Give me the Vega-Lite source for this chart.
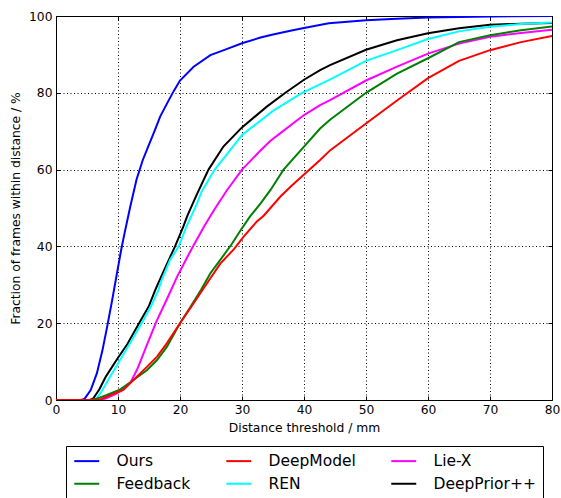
{
  "$schema": "https://vega.github.io/schema/vega-lite/v6.json",
  "width": 496,
  "height": 384,
  "autosize": {"type": "none"},
  "padding": {"left": 56, "top": 16, "right": 9, "bottom": 98},
  "background": "white",
  "config": {
    "font": "DejaVu Sans",
    "view": {"stroke": "black", "strokeWidth": 1},
    "axis": {
      "labelFont": "DejaVu Sans",
      "labelFontSize": 12.3,
      "labelColor": "black",
      "titleFont": "DejaVu Sans",
      "titleFontSize": 12.3,
      "titleFontWeight": "normal",
      "titleColor": "black",
      "tickColor": "black",
      "domain": false,
      "gridColor": "black",
      "gridOpacity": 1,
      "gridWidth": 1,
      "gridDash": [1, 2.5]
    }
  },
  "data": {
    "values": [
      {"m": "Ours", "x": 0, "y": 0}, {"m": "Ours", "x": 4, "y": 0}, {"m": "Ours", "x": 4.6, "y": 0.3}, {"m": "Ours", "x": 5.6, "y": 2.6}, {"m": "Ours", "x": 6.6, "y": 7}, {"m": "Ours", "x": 7.5, "y": 13}, {"m": "Ours", "x": 8.3, "y": 19.5}, {"m": "Ours", "x": 9, "y": 25.5}, {"m": "Ours", "x": 10, "y": 34.5}, {"m": "Ours", "x": 10.5, "y": 39}, {"m": "Ours", "x": 11, "y": 43}, {"m": "Ours", "x": 12, "y": 50.5}, {"m": "Ours", "x": 13, "y": 57.5}, {"m": "Ours", "x": 14, "y": 62.5}, {"m": "Ours", "x": 15, "y": 66.5}, {"m": "Ours", "x": 16, "y": 70.5}, {"m": "Ours", "x": 16.8, "y": 73.8}, {"m": "Ours", "x": 18, "y": 77.5}, {"m": "Ours", "x": 19, "y": 80.5}, {"m": "Ours", "x": 20, "y": 83.2}, {"m": "Ours", "x": 22.2, "y": 86.8}, {"m": "Ours", "x": 24.9, "y": 89.8}, {"m": "Ours", "x": 27.4, "y": 91.3}, {"m": "Ours", "x": 30, "y": 92.9}, {"m": "Ours", "x": 33, "y": 94.4}, {"m": "Ours", "x": 35, "y": 95.2}, {"m": "Ours", "x": 38, "y": 96.2}, {"m": "Ours", "x": 40, "y": 96.9}, {"m": "Ours", "x": 44, "y": 98.1}, {"m": "Ours", "x": 50, "y": 98.9}, {"m": "Ours", "x": 55, "y": 99.3}, {"m": "Ours", "x": 60, "y": 99.6}, {"m": "Ours", "x": 70, "y": 99.9}, {"m": "Ours", "x": 80, "y": 100},

      {"m": "DeepPrior++", "x": 0, "y": 0}, {"m": "DeepPrior++", "x": 5.5, "y": 0}, {"m": "DeepPrior++", "x": 6, "y": 0.4}, {"m": "DeepPrior++", "x": 7, "y": 2.8}, {"m": "DeepPrior++", "x": 8, "y": 6}, {"m": "DeepPrior++", "x": 9, "y": 8.5}, {"m": "DeepPrior++", "x": 10, "y": 11}, {"m": "DeepPrior++", "x": 11.5, "y": 14.5}, {"m": "DeepPrior++", "x": 13.4, "y": 20}, {"m": "DeepPrior++", "x": 15, "y": 24.5}, {"m": "DeepPrior++", "x": 16, "y": 28.6}, {"m": "DeepPrior++", "x": 17.2, "y": 33}, {"m": "DeepPrior++", "x": 19.2, "y": 40}, {"m": "DeepPrior++", "x": 20.5, "y": 45}, {"m": "DeepPrior++", "x": 21.2, "y": 48}, {"m": "DeepPrior++", "x": 22.7, "y": 53.5}, {"m": "DeepPrior++", "x": 24.6, "y": 60}, {"m": "DeepPrior++", "x": 27, "y": 66}, {"m": "DeepPrior++", "x": 30, "y": 71}, {"m": "DeepPrior++", "x": 34, "y": 76.4}, {"m": "DeepPrior++", "x": 37, "y": 80}, {"m": "DeepPrior++", "x": 40, "y": 83.4}, {"m": "DeepPrior++", "x": 42.6, "y": 85.9}, {"m": "DeepPrior++", "x": 44.2, "y": 87.2}, {"m": "DeepPrior++", "x": 50, "y": 91.2}, {"m": "DeepPrior++", "x": 55, "y": 93.7}, {"m": "DeepPrior++", "x": 60, "y": 95.5}, {"m": "DeepPrior++", "x": 65, "y": 96.8}, {"m": "DeepPrior++", "x": 70, "y": 97.7}, {"m": "DeepPrior++", "x": 75, "y": 98}, {"m": "DeepPrior++", "x": 80, "y": 98.2},

      {"m": "REN", "x": 0, "y": 0}, {"m": "REN", "x": 6, "y": 0}, {"m": "REN", "x": 6.5, "y": 0.3}, {"m": "REN", "x": 7.5, "y": 2.6}, {"m": "REN", "x": 8.5, "y": 5.5}, {"m": "REN", "x": 10, "y": 9.5}, {"m": "REN", "x": 12, "y": 15}, {"m": "REN", "x": 14, "y": 20.5}, {"m": "REN", "x": 15.5, "y": 25}, {"m": "REN", "x": 16.5, "y": 28.6}, {"m": "REN", "x": 17, "y": 31}, {"m": "REN", "x": 18.4, "y": 36.5}, {"m": "REN", "x": 19.8, "y": 40}, {"m": "REN", "x": 21, "y": 45}, {"m": "REN", "x": 22.7, "y": 51}, {"m": "REN", "x": 23.5, "y": 54.3}, {"m": "REN", "x": 25.6, "y": 60}, {"m": "REN", "x": 28.1, "y": 65.1}, {"m": "REN", "x": 30, "y": 69}, {"m": "REN", "x": 35, "y": 75.3}, {"m": "REN", "x": 39.7, "y": 80}, {"m": "REN", "x": 44, "y": 83.3}, {"m": "REN", "x": 50, "y": 88.3}, {"m": "REN", "x": 55, "y": 91.1}, {"m": "REN", "x": 60, "y": 94}, {"m": "REN", "x": 65, "y": 96}, {"m": "REN", "x": 70, "y": 97.2}, {"m": "REN", "x": 75, "y": 97.9}, {"m": "REN", "x": 80, "y": 98.3},

      {"m": "Lie-X", "x": 0, "y": 0}, {"m": "Lie-X", "x": 7, "y": 0}, {"m": "Lie-X", "x": 8, "y": 0.4}, {"m": "Lie-X", "x": 9.5, "y": 1.5}, {"m": "Lie-X", "x": 11, "y": 2.8}, {"m": "Lie-X", "x": 12, "y": 4.5}, {"m": "Lie-X", "x": 13.1, "y": 8}, {"m": "Lie-X", "x": 14.7, "y": 14.5}, {"m": "Lie-X", "x": 16.2, "y": 20.5}, {"m": "Lie-X", "x": 17.9, "y": 26.3}, {"m": "Lie-X", "x": 19.5, "y": 32}, {"m": "Lie-X", "x": 21.1, "y": 37}, {"m": "Lie-X", "x": 22.2, "y": 40.3}, {"m": "Lie-X", "x": 24, "y": 45.5}, {"m": "Lie-X", "x": 25.7, "y": 50}, {"m": "Lie-X", "x": 27.6, "y": 54.7}, {"m": "Lie-X", "x": 30, "y": 60}, {"m": "Lie-X", "x": 32.7, "y": 64.5}, {"m": "Lie-X", "x": 34.6, "y": 67.5}, {"m": "Lie-X", "x": 36.2, "y": 69.5}, {"m": "Lie-X", "x": 40, "y": 74.2}, {"m": "Lie-X", "x": 42.6, "y": 76.8}, {"m": "Lie-X", "x": 44.2, "y": 78.1}, {"m": "Lie-X", "x": 50, "y": 83.2}, {"m": "Lie-X", "x": 55, "y": 86.8}, {"m": "Lie-X", "x": 60, "y": 90.2}, {"m": "Lie-X", "x": 65, "y": 92.8}, {"m": "Lie-X", "x": 70, "y": 94.6}, {"m": "Lie-X", "x": 75, "y": 95.6}, {"m": "Lie-X", "x": 80, "y": 96.4},

      {"m": "Feedback", "x": 0, "y": 0}, {"m": "Feedback", "x": 5.4, "y": 0}, {"m": "Feedback", "x": 6.5, "y": 0.3}, {"m": "Feedback", "x": 8.2, "y": 1.3}, {"m": "Feedback", "x": 10.2, "y": 2.6}, {"m": "Feedback", "x": 12.5, "y": 5.2}, {"m": "Feedback", "x": 14.7, "y": 7.8}, {"m": "Feedback", "x": 16.3, "y": 10.4}, {"m": "Feedback", "x": 17.9, "y": 13.9}, {"m": "Feedback", "x": 20, "y": 20}, {"m": "Feedback", "x": 21.7, "y": 24.3}, {"m": "Feedback", "x": 23.4, "y": 28.7}, {"m": "Feedback", "x": 24.9, "y": 33}, {"m": "Feedback", "x": 26.5, "y": 36.5}, {"m": "Feedback", "x": 28.3, "y": 40.5}, {"m": "Feedback", "x": 29.7, "y": 44}, {"m": "Feedback", "x": 31.3, "y": 47.8}, {"m": "Feedback", "x": 33, "y": 51.2}, {"m": "Feedback", "x": 34.6, "y": 54.7}, {"m": "Feedback", "x": 36.7, "y": 60}, {"m": "Feedback", "x": 40, "y": 66}, {"m": "Feedback", "x": 42.6, "y": 70.7}, {"m": "Feedback", "x": 44.2, "y": 73}, {"m": "Feedback", "x": 50, "y": 80}, {"m": "Feedback", "x": 55, "y": 85}, {"m": "Feedback", "x": 60, "y": 89}, {"m": "Feedback", "x": 65, "y": 93.2}, {"m": "Feedback", "x": 70, "y": 95}, {"m": "Feedback", "x": 75, "y": 96.3}, {"m": "Feedback", "x": 80, "y": 97.3},

      {"m": "DeepModel", "x": 0, "y": 0}, {"m": "DeepModel", "x": 7, "y": 0}, {"m": "DeepModel", "x": 8.2, "y": 0.9}, {"m": "DeepModel", "x": 10.8, "y": 2.6}, {"m": "DeepModel", "x": 12.5, "y": 5.2}, {"m": "DeepModel", "x": 14.7, "y": 8.7}, {"m": "DeepModel", "x": 16.3, "y": 11.3}, {"m": "DeepModel", "x": 17.9, "y": 14.8}, {"m": "DeepModel", "x": 20, "y": 20}, {"m": "DeepModel", "x": 22.2, "y": 25.2}, {"m": "DeepModel", "x": 24.6, "y": 31}, {"m": "DeepModel", "x": 26.5, "y": 35.5}, {"m": "DeepModel", "x": 28.7, "y": 39.3}, {"m": "DeepModel", "x": 30.3, "y": 42.6}, {"m": "DeepModel", "x": 32.4, "y": 46.5}, {"m": "DeepModel", "x": 33.5, "y": 48}, {"m": "DeepModel", "x": 36.2, "y": 53}, {"m": "DeepModel", "x": 38, "y": 55.8}, {"m": "DeepModel", "x": 40, "y": 58.7}, {"m": "DeepModel", "x": 42.6, "y": 62.5}, {"m": "DeepModel", "x": 44.2, "y": 65}, {"m": "DeepModel", "x": 50, "y": 72}, {"m": "DeepModel", "x": 55, "y": 78}, {"m": "DeepModel", "x": 60, "y": 83.8}, {"m": "DeepModel", "x": 65, "y": 88.3}, {"m": "DeepModel", "x": 70, "y": 91.1}, {"m": "DeepModel", "x": 75, "y": 93.2}, {"m": "DeepModel", "x": 80, "y": 94.8}
    ]
  },
  "layer": [
    {
      "mark": {"type": "line", "strokeWidth": 2, "clip": true},
      "encoding": {
        "x": {
          "field": "x", "type": "quantitative",
          "scale": {"domain": [0, 80], "nice": false},
          "axis": {"values": [0, 10, 20, 30, 40, 50, 60, 70, 80], "title": "Distance threshold / mm", "grid": true, "tickSize": -4, "labelPadding": 7, "titlePadding": 6, "labelFlush": false}
        },
        "y": {
          "field": "y", "type": "quantitative",
          "scale": {"domain": [0, 100], "nice": false},
          "axis": {"values": [0, 20, 40, 60, 80, 100], "title": "Fraction of frames within distance / %", "grid": true, "tickSize": -4, "labelPadding": 8, "titlePadding": 6, "labelFlush": false}
        },
        "color": {
          "field": "m", "type": "nominal",
          "scale": {
            "domain": ["Ours", "DeepModel", "Lie-X", "Feedback", "REN", "DeepPrior++"],
            "range": ["#0000ff", "#ff0000", "#ff00ff", "#008000", "#00ffff", "#000000"]
          },
          "legend": {
            "title": null,
            "orient": "none",
            "legendX": 10,
            "legendY": 430,
            "direction": "horizontal",
            "columns": 3,
            "symbolType": "M-2,0H2",
            "symbolSize": 156,
            "symbolOffset": 6,
            "symbolStrokeWidth": 2,
            "symbolFillColor": "transparent",
            "labelFont": "DejaVu Sans",
            "labelFontSize": 15.5,
            "labelColor": "black",
            "labelOffset": 22,
            "columnPadding": 31,
            "rowPadding": 6,
            "padding": 7,
            "strokeColor": "black",
            "fillColor": "white",
            "labelLimit": 300
          }
        }
      }
    },
    {
      "mark": {"type": "line", "strokeOpacity": 0},
      "encoding": {
        "x": {"field": "x", "type": "quantitative", "axis": {"orient": "top", "values": [0, 10, 20, 30, 40, 50, 60, 70, 80], "labels": false, "title": null, "grid": false, "tickSize": -4}},
        "y": {"field": "y", "type": "quantitative", "axis": {"orient": "right", "values": [0, 20, 40, 60, 80, 100], "labels": false, "title": null, "grid": false, "tickSize": -4}},
        "detail": {"field": "m"}
      }
    }
  ],
  "resolve": {"axis": {"x": "independent", "y": "independent"}}
}
